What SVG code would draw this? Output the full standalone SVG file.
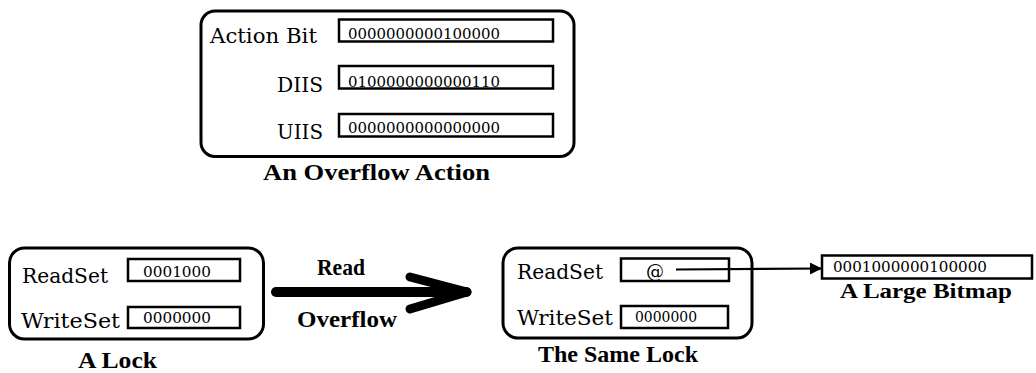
<svg xmlns="http://www.w3.org/2000/svg" width="1036" height="373" viewBox="0 0 1036 373">
<style>
.box{fill:none;stroke:#000;stroke-width:3}
.fld{fill:#fff;stroke:#000;stroke-width:2.5}
.lbl{font-family:"DejaVu Serif","Liberation Serif",serif;font-size:20px;fill:#000}
.dig{font-family:"DejaVu Serif","Liberation Serif",serif;font-size:15px;fill:#000}
.cap{font-family:"Liberation Serif","DejaVu Serif",serif;font-size:24px;font-weight:bold;fill:#000}
.big{fill:none;stroke:#000;stroke-linecap:round}
</style>
<defs>
<marker id="tri" viewBox="0 0 10 10" refX="10" refY="5" markerWidth="19" markerHeight="12" markerUnits="userSpaceOnUse" orient="auto">
<path d="M0,0 L10,5 L0,10 Z" fill="#000"/>
</marker>
</defs>
<rect width="1036" height="373" fill="#fff"/>

<g id="overflow-action">
<rect class="box" x="201" y="11" width="373" height="145.5" rx="14"/>
<text class="lbl" x="210" y="43" textLength="107" lengthAdjust="spacingAndGlyphs">Action Bit</text>
<rect class="fld" x="339" y="19.5" width="214" height="22"/>
<text class="dig" x="348" y="39" textLength="152" lengthAdjust="spacingAndGlyphs">0000000000100000</text>
<text class="lbl" x="277" y="91.5" textLength="46" lengthAdjust="spacingAndGlyphs">DIIS</text>
<rect class="fld" x="339" y="66" width="214" height="22.5"/>
<text class="dig" x="348" y="86.5" textLength="152" lengthAdjust="spacingAndGlyphs">0100000000000110</text>
<text class="lbl" x="277" y="138.5" textLength="46" lengthAdjust="spacingAndGlyphs">UIIS</text>
<rect class="fld" x="339" y="114" width="214" height="22.5"/>
<text class="dig" x="348" y="133" textLength="152" lengthAdjust="spacingAndGlyphs">0000000000000000</text>
<text class="cap" x="263" y="179.5" textLength="227" lengthAdjust="spacingAndGlyphs">An Overflow Action</text>
</g>

<g id="a-lock">
<rect class="box" x="9.5" y="248" width="254" height="91" rx="15"/>
<text class="lbl" x="22" y="283" textLength="86" lengthAdjust="spacingAndGlyphs">ReadSet</text>
<rect class="fld" x="128" y="259" width="112" height="22"/>
<text class="dig" x="143" y="277" textLength="68" lengthAdjust="spacingAndGlyphs">0001000</text>
<text class="lbl" x="21" y="328" textLength="99" lengthAdjust="spacingAndGlyphs">WriteSet</text>
<rect class="fld" x="128" y="307" width="112" height="21"/>
<text class="dig" x="143" y="322.5" textLength="68" lengthAdjust="spacingAndGlyphs">0000000</text>
<text class="cap" x="78" y="368" textLength="79" lengthAdjust="spacingAndGlyphs">A Lock</text>
</g>

<g id="same-lock">
<rect class="box" x="503" y="248" width="249" height="90" rx="15"/>
<text class="lbl" x="517" y="279" textLength="86" lengthAdjust="spacingAndGlyphs">ReadSet</text>
<rect class="fld" x="621" y="258.5" width="108" height="22.5"/>
<text class="dig" x="646" y="278" style="font-size:18px">@</text>
<text class="lbl" x="517" y="325" textLength="96" lengthAdjust="spacingAndGlyphs">WriteSet</text>
<rect class="fld" x="621" y="306" width="107" height="22"/>
<text class="dig" x="635" y="322" textLength="62" lengthAdjust="spacingAndGlyphs">0000000</text>
<text class="cap" x="538" y="361.5" textLength="160" lengthAdjust="spacingAndGlyphs">The Same Lock</text>
</g>

<g id="large-bitmap">
<rect class="fld" x="822" y="255.5" width="210" height="23"/>
<text class="dig" x="833" y="271.5" textLength="154" lengthAdjust="spacingAndGlyphs">0001000000100000</text>
<text class="cap" x="840" y="298" style="font-size:22px" textLength="172" lengthAdjust="spacingAndGlyphs">A Large Bitmap</text>
</g>

<g id="connectors">
<line class="big" x1="276" y1="292" x2="466" y2="292" stroke-width="10"/>
<line class="big" x1="410" y1="277" x2="467" y2="292" stroke-width="9"/>
<line class="big" x1="410" y1="309" x2="467" y2="292" stroke-width="9"/>
<text class="cap" x="317" y="275" textLength="48" lengthAdjust="spacingAndGlyphs">Read</text>
<text class="cap" x="297" y="327" textLength="100" lengthAdjust="spacingAndGlyphs">Overflow</text>
<line x1="676" y1="269.5" x2="822" y2="268.5" stroke="#000" stroke-width="2.2" marker-end="url(#tri)"/>
</g>
</svg>
